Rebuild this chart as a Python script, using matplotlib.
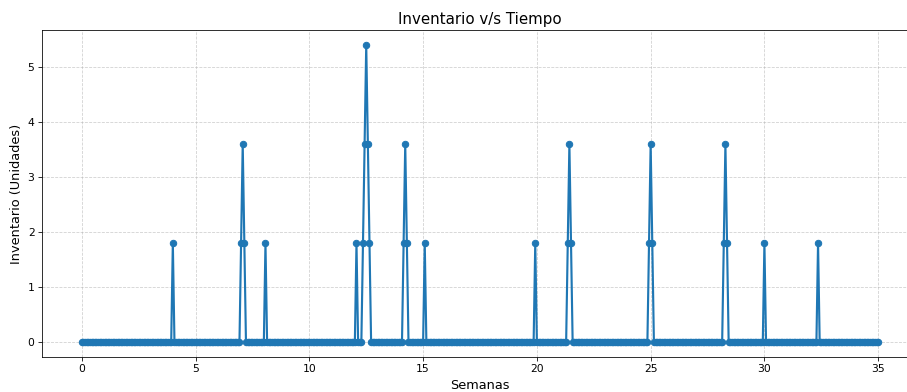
import numpy as np
import matplotlib
matplotlib.use("Agg")
import matplotlib.pyplot as plt

# Time grid (weeks), sampled every half day
n_steps_per_week = 14
total_weeks = 35
semanas = np.arange(0, total_weeks * n_steps_per_week + 1) / n_steps_per_week

# Non-zero inventory readings: grid index -> units
spike_index = [56,
               98, 99, 100,
               113,
               169,
               173, 174, 175, 176, 177,
               198, 199, 200,
               211,
               279,
               299, 300, 301,
               349, 350, 351,
               395, 396, 397,
               420,
               453]
spike_value = [1.8,
               1.8, 3.6, 1.8,
               1.8,
               1.8,
               1.8, 3.6, 5.4, 3.6, 1.8,
               1.8, 3.6, 1.8,
               1.8,
               1.8,
               1.8, 3.6, 1.8,
               1.8, 3.6, 1.8,
               1.8, 3.6, 1.8,
               1.8,
               1.8]

inventario = np.zeros_like(semanas)
inventario[spike_index] = spike_value

DPI = 72
s = 1.07
fig = plt.figure(figsize=(907 / DPI, 392 / DPI), dpi=DPI)
ax = fig.add_axes([42 / 907, 35 / 392, 876 / 907, 327 / 392])
ax.plot(semanas, inventario, marker='o', markersize=6 * s, linewidth=2 * s,
        color='#1f77b4')
ax.set_title('Inventario v/s Tiempo', fontsize=14 * s, pad=6 * s)
ax.set_xlabel('Semanas', fontsize=12 * s, labelpad=4 * s)
ax.set_ylabel('Inventario (Unidades)', fontsize=12 * s, labelpad=4 * s)
ax.grid(True, linestyle='--', alpha=0.6)
ax.set_xticks([0, 5, 10, 15, 20, 25, 30, 35])
ax.tick_params(labelsize=10 * s, length=3.5 * s, pad=3.5 * s)
fig.savefig('out.png', dpi=DPI)
